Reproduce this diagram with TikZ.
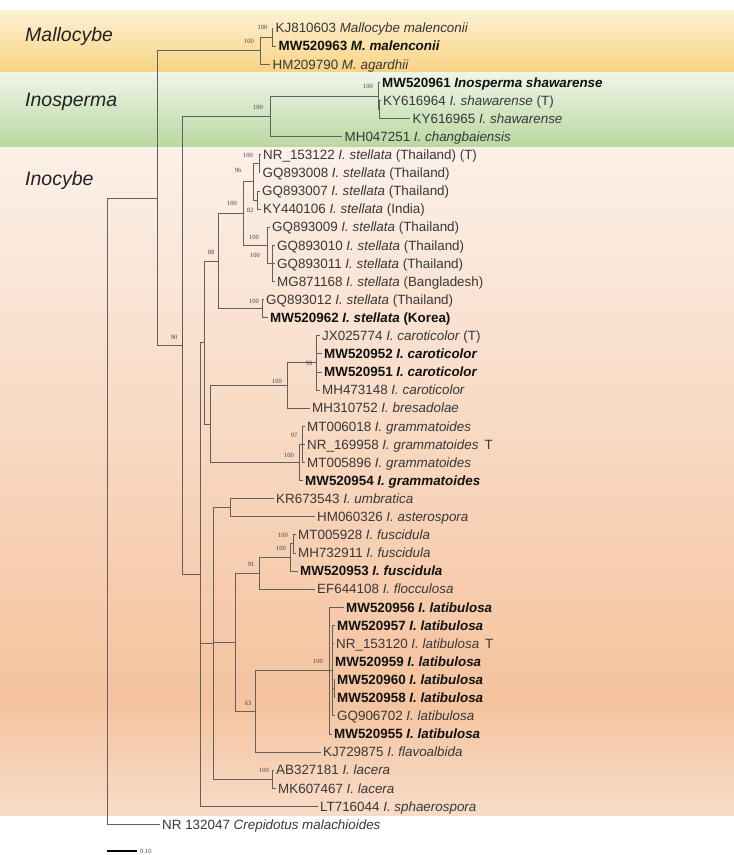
\documentclass[tikz,border=0pt]{standalone}
\usepackage{fontspec}
\setmainfont{Liberation Sans}
\newfontfamily\bsfont{Liberation Serif}
\definecolor{brcol}{HTML}{606060}
\definecolor{leafcol}{HTML}{383838}
\definecolor{boldcol}{HTML}{111111}
\definecolor{bootcol}{HTML}{444444}
\definecolor{cladecol}{HTML}{222222}
\definecolor{malA}{HTML}{FDF1D4}
\definecolor{malB}{HTML}{F9D383}
\definecolor{inoA}{HTML}{F0F5EA}
\definecolor{inoB}{HTML}{B9D89F}
\definecolor{incA}{HTML}{FCF0E8}
\definecolor{incB}{HTML}{F5C39E}
\definecolor{incC}{HTML}{F8DCC8}
\begin{document}
\begin{tikzpicture}[x=1pt,y=-1pt,
  br/.style={draw=brcol, line width=0.8pt},
  leaf/.style={anchor=west, inner xsep=2.5pt, inner ysep=0pt, text height=10.6pt, text depth=1pt,
    font=\fontsize{13.4}{15}\selectfont, text=leafcol},
  bleaf/.style={leaf, font=\fontsize{13.4}{15}\selectfont\bfseries, text=boldcol},
  boot/.style={font=\bsfont\fontsize{6.5}{7}\selectfont, text=bootcol, inner sep=0pt},
  clade/.style={anchor=west, font=\fontsize{19.5}{22}\selectfont\itshape, text=cladecol, inner sep=0pt}]
\useasboundingbox (0,0) rectangle (734,855);
% backgrounds
\shade[top color=malA, bottom color=malB] (0,10) rectangle (734,72);
\shade[top color=inoA, bottom color=inoB] (0,72) rectangle (734,147);
\shade[top color=incA, bottom color=incB] (0,147) rectangle (734,700);
\shade[top color=incB, bottom color=incC] (0,699.5) rectangle (734,815);
% clade names
\node[clade] (cMal) at (25,36) {Mallocybe};
\node[clade] (cIns) at (25,102) {Inosperma};
\node[clade] (cInc) at (25,180) {Inocybe};
% internal nodes
\coordinate (nRoot) at (107,500);
\coordinate (n157) at (157,197.95);
\coordinate (nM) at (260,50.6);
\coordinate (nM1) at (272,37.05);
\coordinate (n182) at (182,345.3);
\coordinate (nI) at (270,116.25);
\coordinate (nI1) at (378,95.9);
\coordinate (nI1b) at (379,109.45);
\coordinate (nY) at (200,574.4);
\coordinate (nX) at (204,342.5);
\coordinate (nS) at (218,261.0);
\coordinate (nA) at (243,213.5);
\coordinate (nA1) at (253,181.85);
\coordinate (nA1a) at (259,163.75);
\coordinate (nA1b) at (257,199.95);
\coordinate (nA2) at (267,245.2);
\coordinate (nA2b) at (272,263.3);
\coordinate (nB) at (262,308.55);
\coordinate (nC) at (210,423.95);
\coordinate (nC1) at (287,385.5);
\coordinate (nCar) at (316,362.85);
\coordinate (nC2) at (299,462.4);
\coordinate (nC2a) at (302,444.3);
\coordinate (nZ) at (213,643.4);
\coordinate (nU) at (230,507.65);
\coordinate (nW) at (235,642.3);
\coordinate (nG) at (259,573.25);
\coordinate (nF) at (290,557.4);
\coordinate (nF2) at (293,543.85);
\coordinate (nH) at (255,711.3);
\coordinate (nLat) at (329,670.55);
\coordinate (nLat2) at (332,670.55);
\coordinate (nLat3) at (334,688.65);
\coordinate (nL) at (272,779.15);
% leaves
\node[leaf] (l0) at (273,28) {KJ810603 \textit{Mallocybe malenconii}};
\node[bleaf] (l1) at (276,46.1) {MW520963 \textit{M. malenconii}};
\node[leaf] (l2) at (270,64.2) {HM209790 \textit{M. agardhii}};
\node[bleaf] (l3) at (379.5,82.3) {MW520961 \textit{Inosperma shawarense}};
\node[leaf] (l4) at (380.5,100.4) {KY616964 \textit{I. shawarense} (T)};
\node[leaf] (l5) at (410,118.5) {KY616965 \textit{I. shawarense}};
\node[leaf] (l6) at (342,136.6) {MH047251 \textit{I. changbaiensis}};
\node[leaf] (l7) at (260.5,154.7) {NR\_153122 \textit{I. stellata} (Thailand) (T)};
\node[leaf] (l8) at (260,172.8) {GQ893008 \textit{I. stellata} (Thailand)};
\node[leaf] (l9) at (259.5,190.9) {GQ893007 \textit{I. stellata} (Thailand)};
\node[leaf] (l10) at (260.5,209) {KY440106 \textit{I. stellata} (India)};
\node[leaf] (l11) at (269.5,227.1) {GQ893009 \textit{I. stellata} (Thailand)};
\node[leaf] (l12) at (274.5,245.2) {GQ893010 \textit{I. stellata} (Thailand)};
\node[leaf] (l13) at (274.5,263.3) {GQ893011 \textit{I. stellata} (Thailand)};
\node[leaf] (l14) at (274.5,281.4) {MG871168 \textit{I. stellata} (Bangladesh)};
\node[leaf] (l15) at (263.5,299.5) {GQ893012 \textit{I. stellata} (Thailand)};
\node[bleaf] (l16) at (267.5,317.6) {MW520962 \textit{I. stellata} (Korea)};
\node[leaf] (l17) at (319.5,335.7) {JX025774 \textit{I. caroticolor} (T)};
\node[bleaf] (l18) at (321.5,353.8) {MW520952 \textit{I. caroticolor}};
\node[bleaf] (l19) at (321.5,371.9) {MW520951 \textit{I. caroticolor}};
\node[leaf] (l20) at (319.5,390) {MH473148 \textit{I. caroticolor}};
\node[leaf] (l21) at (309.5,408.1) {MH310752 \textit{I. bresadolae}};
\node[leaf] (l22) at (304.5,426.2) {MT006018 \textit{I. grammatoides}};
\node[leaf] (l23) at (304.5,444.3) {NR\_169958 \textit{I. grammatoides}\hspace{6pt}T};
\node[leaf] (l24) at (304.5,462.4) {MT005896 \textit{I. grammatoides}};
\node[bleaf] (l25) at (302.5,480.5) {MW520954 \textit{I. grammatoides}};
\node[leaf] (l26) at (273.5,498.6) {KR673543 \textit{I. umbratica}};
\node[leaf] (l27) at (314.5,516.7) {HM060326 \textit{I. asterospora}};
\node[leaf] (l28) at (295.5,534.8) {MT005928 \textit{I. fuscidula}};
\node[leaf] (l29) at (295.5,552.9) {MH732911 \textit{I. fuscidula}};
\node[bleaf] (l30) at (297.5,571) {MW520953 \textit{I. fuscidula}};
\node[leaf] (l31) at (314.5,589.1) {EF644108 \textit{I. flocculosa}};
\node[bleaf] (l32) at (343.5,607.2) {MW520956 \textit{I. latibulosa}};
\node[bleaf] (l33) at (334.5,625.3) {MW520957 \textit{I. latibulosa}};
\node[leaf] (l34) at (333.5,643.4) {NR\_153120 \textit{I. latibulosa}\hspace{6pt}T};
\node[bleaf] (l35) at (332.5,661.5) {MW520959 \textit{I. latibulosa}};
\node[bleaf] (l36) at (334.5,679.6) {MW520960 \textit{I. latibulosa}};
\node[bleaf] (l37) at (334.5,697.7) {MW520958 \textit{I. latibulosa}};
\node[leaf] (l38) at (334.5,715.8) {GQ906702 \textit{I. latibulosa}};
\node[bleaf] (l39) at (331.5,733.9) {MW520955 \textit{I. latibulosa}};
\node[leaf] (l40) at (320.5,752) {KJ729875 \textit{I. flavoalbida}};
\node[leaf] (l41) at (273.5,770.1) {AB327181 \textit{I. lacera}};
\node[leaf] (l42) at (275.5,788.2) {MK607467 \textit{I. lacera}};
\node[leaf] (l43) at (317.5,806.3) {LT716044 \textit{I. sphaerospora}};
\node[leaf] (l44) at (159.5,824.4) {NR 132047 \textit{Crepidotus malachioides}};
% branches
\draw[br] (nRoot) |- (n157);
\draw[br] (nRoot) |- (l44.west);
\draw[br] (n157) |- (nM);
\draw[br] (n157) |- (n182);
\draw[br] (nM) |- (nM1);
\draw[br] (nM1) |- (l0.west);
\draw[br] (nM1) |- (l1.west);
\draw[br] (nM) |- (l2.west);
\draw[br] (n182) |- (nI);
\draw[br] (n182) |- (nY);
\draw[br] (nI) |- (nI1);
\draw[br] (nI) |- (l6.west);
\draw[br] (nI1) |- (l3.west);
\draw[br] (nI1) |- (nI1b);
\draw[br] (nI1b) |- (l4.west);
\draw[br] (nI1b) |- (l5.west);
\draw[br] (nY) |- (nX);
\draw[br] (nY) |- (nZ);
\draw[br] (nY) |- (l43.west);
\draw[br] (nX) |- (nS);
\draw[br] (nX) |- (nC);
\draw[br] (nS) |- (nA);
\draw[br] (nS) |- (nB);
\draw[br] (nA) |- (nA1);
\draw[br] (nA) |- (nA2);
\draw[br] (nA1) |- (nA1a);
\draw[br] (nA1) |- (nA1b);
\draw[br] (nA1a) |- (l7.west);
\draw[br] (nA1a) |- (l8.west);
\draw[br] (nA1b) |- (l9.west);
\draw[br] (nA1b) |- (l10.west);
\draw[br] (nA2) |- (l11.west);
\draw[br] (nA2) |- (nA2b);
\draw[br] (nA2b) |- (l12.west);
\draw[br] (nA2b) |- (l13.west);
\draw[br] (nA2b) |- (l14.west);
\draw[br] (nB) |- (l15.west);
\draw[br] (nB) |- (l16.west);
\draw[br] (nC) |- (nC1);
\draw[br] (nC) |- (nC2);
\draw[br] (nC1) |- (nCar);
\draw[br] (nC1) |- (l21.west);
\draw[br] (nCar) |- (l17.west);
\draw[br] (nCar) |- (l18.west);
\draw[br] (nCar) |- (l19.west);
\draw[br] (nCar) |- (l20.west);
\draw[br] (nC2) |- (nC2a);
\draw[br] (nC2) |- (l25.west);
\draw[br] (nC2a) |- (l22.west);
\draw[br] (nC2a) |- (l23.west);
\draw[br] (nC2a) |- (l24.west);
\draw[br] (nZ) |- (nU);
\draw[br] (nZ) |- (nW);
\draw[br] (nZ) |- (nL);
\draw[br] (nU) |- (l26.west);
\draw[br] (nU) |- (l27.west);
\draw[br] (nW) |- (nG);
\draw[br] (nW) |- (nH);
\draw[br] (nG) |- (nF);
\draw[br] (nG) |- (l31.west);
\draw[br] (nF) |- (nF2);
\draw[br] (nF) |- (l30.west);
\draw[br] (nF2) |- (l28.west);
\draw[br] (nF2) |- (l29.west);
\draw[br] (nH) |- (nLat);
\draw[br] (nH) |- (l40.west);
\draw[br] (nLat) |- (l32.west);
\draw[br] (nLat) |- (nLat2);
\draw[br] (nLat) |- (l39.west);
\draw[br] (nLat2) |- (l33.west);
\draw[br] (nLat2) |- (l34.west);
\draw[br] (nLat2) |- (l35.west);
\draw[br] (nLat2) |- (nLat3);
\draw[br] (nLat2) |- (l38.west);
\draw[br] (nLat3) |- (l36.west);
\draw[br] (nLat3) |- (l37.west);
\draw[br] (nL) |- (l41.west);
\draw[br] (nL) |- (l42.west);
% bootstrap values
\node[boot] (b1) at (262.5,27) {100};
\node[boot] (b2) at (249,41) {100};
\node[boot] (b3) at (258,107) {100};
\node[boot] (b4) at (368,86) {100};
\node[boot] (b5) at (248,155) {100};
\node[boot] (b6) at (238,170) {96};
\node[boot] (b7) at (232,203) {100};
\node[boot] (b8) at (250,210) {82};
\node[boot] (b9) at (211,252) {88};
\node[boot] (b10) at (254,237) {100};
\node[boot] (b11) at (255,255) {100};
\node[boot] (b12) at (254,301) {100};
\node[boot] (b13) at (174,337) {90};
\node[boot] (b14) at (309,363) {99};
\node[boot] (b15) at (277,381) {100};
\node[boot] (b16) at (294,435) {97};
\node[boot] (b17) at (289,455) {100};
\node[boot] (b18) at (283,535) {100};
\node[boot] (b19) at (281,548) {100};
\node[boot] (b20) at (251,564) {91};
\node[boot] (b21) at (318,661) {100};
\node[boot] (b22) at (248,703) {63};
\node[boot] (b23) at (264,770) {100};
% scale bar
\coordinate (sb1) at (107,851);
\coordinate (sb2) at (137,851);
\draw[line width=1.2pt, black] (sb1) -- (sb2);
\node[boot, anchor=west] (sbl) at (140,851) {0.10};
\end{tikzpicture}
\end{document}
